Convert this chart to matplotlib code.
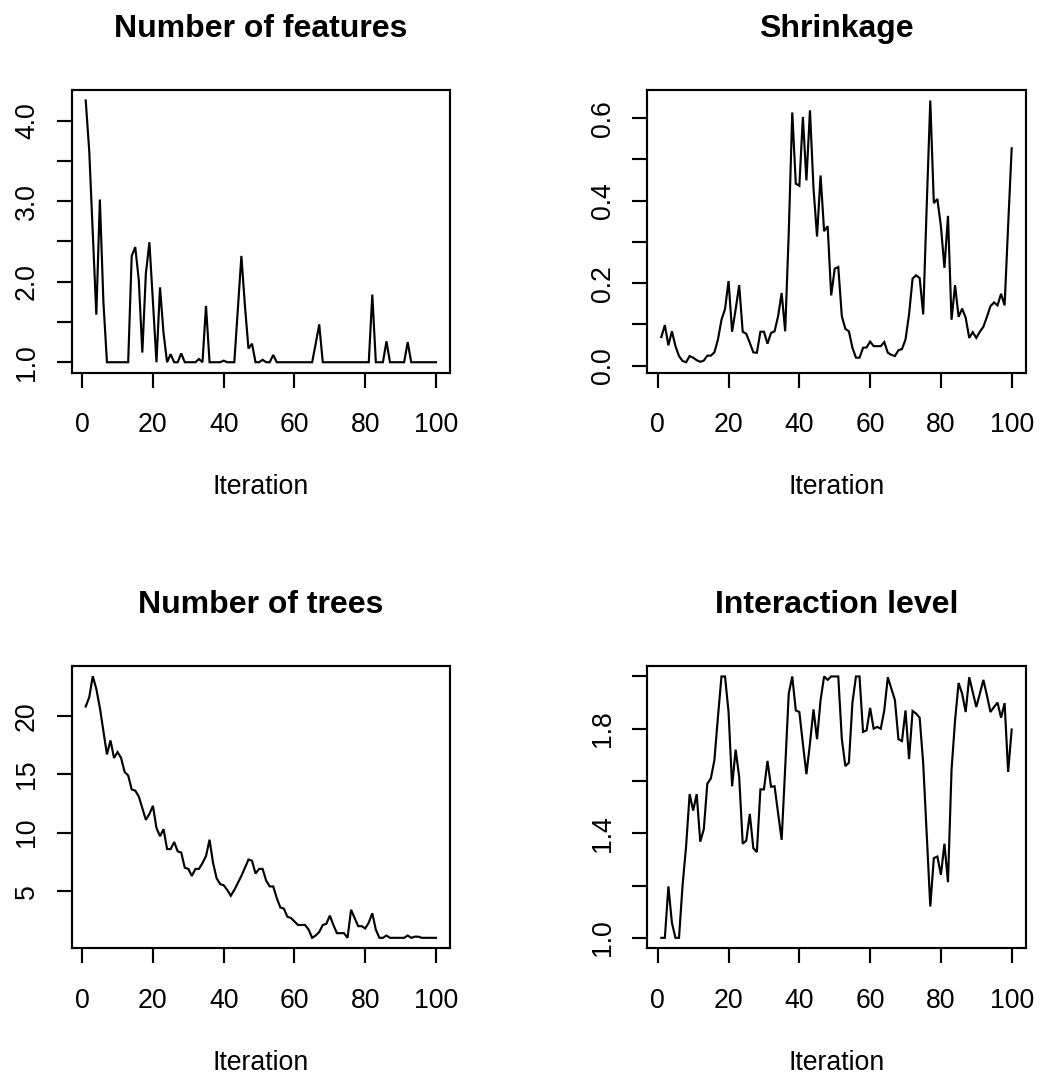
import matplotlib
matplotlib.use("Agg")
import matplotlib.pyplot as plt
import numpy as np

plt.rcParams['font.family'] = ['Liberation Sans', 'DejaVu Sans']

iterations = list(range(1, 101))

num_features = [
    4.25, 3.62, 2.60, 1.59, 3.02, 1.75, 1.00, 1.00, 1.00, 1.00,
    1.00, 1.00, 1.00, 2.32, 2.43, 2.02, 1.12, 2.10, 2.49, 1.75,
    1.00, 1.93, 1.36, 1.00, 1.10, 1.00, 1.00, 1.11, 1.00, 1.00,
    1.00, 1.00, 1.04, 1.00, 1.70, 1.00, 1.00, 1.00, 1.00, 1.02,
    1.00, 1.00, 1.00, 1.66, 2.32, 1.70, 1.17, 1.23, 1.00, 1.00,
    1.03, 1.00, 1.00, 1.09, 1.00, 1.00, 1.00, 1.00, 1.00, 1.00,
    1.00, 1.00, 1.00, 1.00, 1.00, 1.23, 1.47, 1.00, 1.00, 1.00,
    1.00, 1.00, 1.00, 1.00, 1.00, 1.00, 1.00, 1.00, 1.00, 1.00,
    1.00, 1.84, 1.00, 1.00, 1.00, 1.26, 1.00, 1.00, 1.00, 1.00,
    1.00, 1.25, 1.00, 1.00, 1.00, 1.00, 1.00, 1.00, 1.00, 1.00,
]

shrinkage = [
    0.069, 0.098, 0.049, 0.083, 0.047, 0.023, 0.011, 0.008, 0.023, 0.019,
    0.013, 0.009, 0.012, 0.024, 0.024, 0.032, 0.063, 0.111, 0.137, 0.205,
    0.082, 0.136, 0.195, 0.082, 0.077, 0.055, 0.032, 0.031, 0.082, 0.082,
    0.053, 0.079, 0.083, 0.120, 0.176, 0.083, 0.320, 0.614, 0.441, 0.436,
    0.603, 0.449, 0.619, 0.430, 0.313, 0.461, 0.326, 0.338, 0.170, 0.235,
    0.239, 0.120, 0.089, 0.083, 0.043, 0.019, 0.019, 0.043, 0.044, 0.058,
    0.047, 0.047, 0.047, 0.057, 0.031, 0.026, 0.023, 0.037, 0.040, 0.063,
    0.124, 0.211, 0.219, 0.212, 0.124, 0.390, 0.643, 0.394, 0.404, 0.338,
    0.237, 0.363, 0.111, 0.195, 0.118, 0.138, 0.116, 0.067, 0.081, 0.067,
    0.082, 0.094, 0.118, 0.144, 0.153, 0.146, 0.174, 0.146, 0.340, 0.527,
]

num_trees = [
    20.8, 21.6, 23.4, 22.3, 20.7, 18.7, 16.7, 17.9, 16.4, 16.9,
    16.4, 15.2, 14.9, 13.7, 13.6, 13.1, 12.1, 11.1, 11.6, 12.3,
    10.4, 9.7, 10.3, 8.6, 8.6, 9.2, 8.4, 8.3, 7.0, 6.9,
    6.3, 6.9, 6.9, 7.4, 8.0, 9.4, 7.4, 6.1, 5.6, 5.5,
    5.1, 4.6, 5.1, 5.7, 6.3, 7.0, 7.7, 7.6, 6.5, 6.9,
    6.9, 5.9, 5.4, 5.4, 4.4, 3.6, 3.5, 2.8, 2.7, 2.4,
    2.1, 2.1, 2.1, 1.7, 1.0, 1.2, 1.5, 2.1, 2.2, 2.9,
    2.1, 1.4, 1.4, 1.4, 1.0, 3.4, 2.7, 2.0, 2.0, 1.8,
    2.3, 3.1, 1.7, 1.0, 1.0, 1.2, 1.0, 1.0, 1.0, 1.0,
    1.0, 1.2, 1.0, 1.1, 1.1, 1.0, 1.0, 1.0, 1.0, 1.0,
]

interaction = [
    1.000, 1.000, 1.197, 1.057, 1.000, 1.000, 1.200, 1.350, 1.550, 1.487,
    1.550, 1.368, 1.415, 1.590, 1.610, 1.680, 1.845, 2.000, 2.000, 1.864,
    1.580, 1.720, 1.616, 1.360, 1.372, 1.474, 1.343, 1.328, 1.568, 1.568,
    1.677, 1.578, 1.580, 1.476, 1.375, 1.650, 1.934, 2.000, 1.870, 1.864,
    1.743, 1.626, 1.743, 1.874, 1.760, 1.910, 2.000, 1.987, 2.000, 2.000,
    2.000, 1.762, 1.657, 1.670, 1.900, 2.000, 2.000, 1.788, 1.794, 1.880,
    1.800, 1.807, 1.800, 1.870, 1.997, 1.953, 1.910, 1.760, 1.753, 1.870,
    1.684, 1.868, 1.858, 1.842, 1.667, 1.394, 1.120, 1.305, 1.311, 1.241,
    1.360, 1.213, 1.642, 1.832, 1.975, 1.934, 1.864, 1.997, 1.940, 1.883,
    1.934, 1.987, 1.928, 1.864, 1.883, 1.900, 1.842, 1.898, 1.635, 1.797,
]

titles = ["Number of features", "Shrinkage", "Number of trees", "Interaction level"]
xlabel = "Iteration"
x_ticks = [0, 20, 40, 60, 80, 100]

y_ticks = [
    [1.0, 1.5, 2.0, 2.5, 3.0, 3.5, 4.0],
    [0.0, 0.1, 0.2, 0.3, 0.4, 0.5, 0.6],
    [5, 10, 15, 20],
    [1.0, 1.2, 1.4, 1.6, 1.8, 2.0],
]
y_labels = [
    ["1.0", "", "2.0", "", "3.0", "", "4.0"],
    ["0.0", "", "0.2", "", "0.4", "", "0.6"],
    ["5", "10", "15", "20"],
    ["1.0", "", "1.4", "", "1.8", ""],
]
series = [num_features, shrinkage, num_trees, interaction]

W, H = 1045, 1076
fig = plt.figure(figsize=(W / 100, H / 100), dpi=100)

# panel boxes in pixels: left, right, top, bottom
boxes = [
    (71.7, 450.0, 90.0, 372.7),
    (647.3, 1025.7, 90.0, 372.7),
    (71.7, 450.0, 665.7, 948.3),
    (647.3, 1025.7, 666.0, 948.3),
]

LW = 1.55
LABEL_FS = 19.2
TITLE_FS = 23
for k in range(4):
    l, r, t, b = boxes[k]
    ax = fig.add_axes([l / W, 1 - b / H, (r - l) / W, (b - t) / H])
    ax.plot(iterations, series[k], color='black', lw=LW, solid_joinstyle='miter')
    x = np.asarray(iterations, float)
    y = np.asarray(series[k], float)
    xr = x.max() - x.min()
    yr = y.max() - y.min()
    ax.set_xlim(x.min() - 0.04 * xr, x.max() + 0.04 * xr)
    ax.set_ylim(y.min() - 0.04 * yr, y.max() + 0.04 * yr)
    ax.set_xticks(x_ticks)
    ax.set_xticklabels([str(v) for v in x_ticks])
    ax.set_yticks(y_ticks[k])
    ax.set_yticklabels(y_labels[k], rotation=90, va='center')
    ax.tick_params(axis='both', direction='out', length=10.8, width=LW,
                   labelsize=LABEL_FS, colors='black')
    ax.tick_params(axis='x', pad=17.5)
    ax.tick_params(axis='y', pad=12)
    for sp in ax.spines.values():
        sp.set_linewidth(LW)
        sp.set_color('black')
    cx = (l + r) / 2 / W
    off = 0 if k < 2 else 576
    fig.text(cx, 1 - (37 + off) / H, titles[k], ha='center', va='baseline',
             fontsize=TITLE_FS, fontweight='bold')
    fig.text(cx, 1 - (494 + off) / H, xlabel, ha='center', va='baseline',
             fontsize=LABEL_FS)

fig.savefig("out.png", dpi=100)
